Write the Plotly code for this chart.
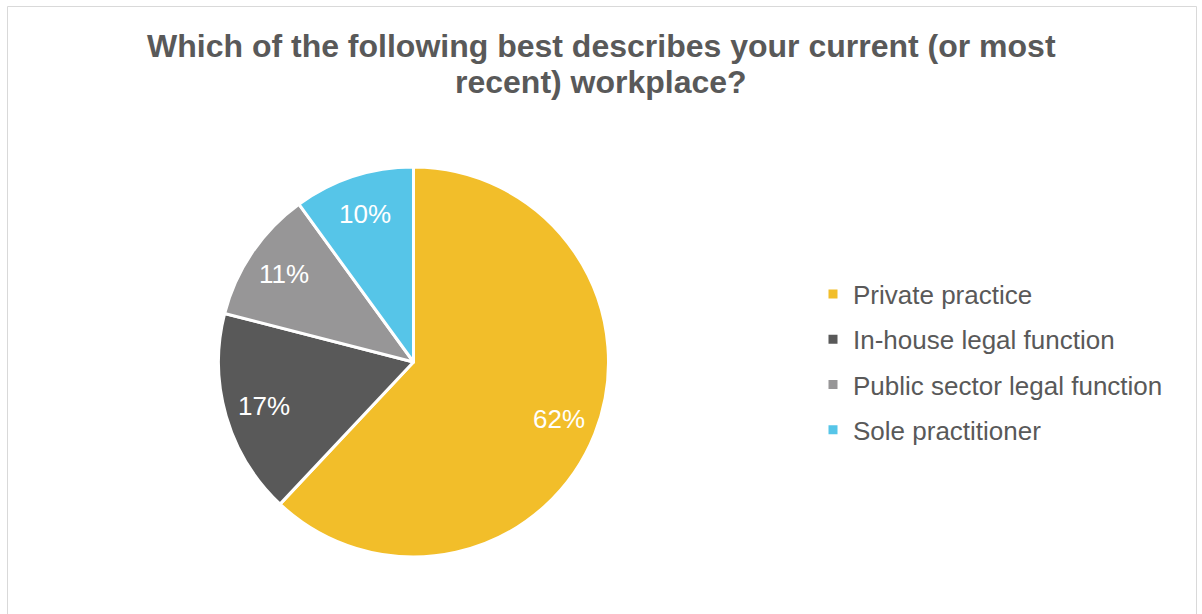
import math
import plotly.graph_objects as go

# Survey responses: workplace type
categories = ["Private practice", "In-house legal function",
              "Public sector legal function", "Sole practitioner"]
shares = [62, 17, 11, 10]
colors = ["#F2BE2A", "#595959", "#979697", "#56C5E8"]
title_lines = ["Which of the following best describes your current (or most",
               "recent) workplace?"]

W, H = 1202, 614
FONT = "Arial, 'Liberation Sans', sans-serif"
TEXT_GREY = "#595959"

# Pie placement (pixels)
CX, CY, R = 413.5, 362.0, 195.0
LABEL_R = 0.80  # percentage labels sit at 80% of the radius

fig = go.Figure()

fig.add_trace(go.Pie(
    labels=categories,
    values=shares,
    sort=False,
    direction="clockwise",
    rotation=0,
    marker=dict(colors=colors, line=dict(color="white", width=3)),
    textinfo="none",
    hoverinfo="label+percent",
    showlegend=False,
    domain=dict(x=[(CX - R) / W, (CX + R) / W],
                y=[(H - CY - R) / H, (H - CY + R) / H]),
))

# Percentage labels placed along each slice's mid-angle
total = sum(shares)
cum = 0.0
for v in shares:
    mid = (cum + v / 2) / total * 2 * math.pi
    cum += v
    px = CX + LABEL_R * R * math.sin(mid)
    py = CY - LABEL_R * R * math.cos(mid)
    fig.add_annotation(
        x=px / W, y=(H - py) / H, xref="paper", yref="paper",
        text=f"{round(v / total * 100)}%", showarrow=False,
        xanchor="center", yanchor="middle",
        font=dict(family=FONT, size=26, color="white"),
    )

# Legend entries with small square swatches, one group per category
for i, (name, col) in enumerate(zip(categories, colors)):
    fig.add_trace(go.Scatter(
        x=[None], y=[None], mode="markers", name=name,
        marker=dict(symbol="square", size=9, color=col),
        legendgroup=f"g{i}", showlegend=True, hoverinfo="skip",
    ))

# Two-line chart title
for line, yc in zip(title_lines, [46, 82]):
    fig.add_annotation(
        x=0.5, y=(H - yc) / H, xref="paper", yref="paper",
        text=f"<b>{line}</b>", showarrow=False,
        xanchor="center", yanchor="middle",
        font=dict(family=FONT, size=32, color=TEXT_GREY),
    )

# Chart-area frame
fig.add_shape(type="rect", xref="paper", yref="paper",
              x0=7.5 / W, x1=1196.5 / W, y0=-0.05, y1=(H - 6.5) / H,
              line=dict(color="#D9D9D9", width=1), fillcolor="rgba(0,0,0,0)")

fig.update_layout(
    width=W, height=H,
    margin=dict(l=0, r=0, t=0, b=0),
    paper_bgcolor="white",
    plot_bgcolor="white",
    xaxis=dict(visible=False),
    yaxis=dict(visible=False),
    legend=dict(
        x=813 / W, xanchor="left",
        y=(H - 362) / H, yanchor="middle",
        font=dict(family=FONT, size=26, color=TEXT_GREY),
        tracegroupgap=8.5,
        traceorder="grouped",
        bgcolor="rgba(0,0,0,0)",
        itemclick=False, itemdoubleclick=False,
    ),
)

fig.write_html("out.html")
